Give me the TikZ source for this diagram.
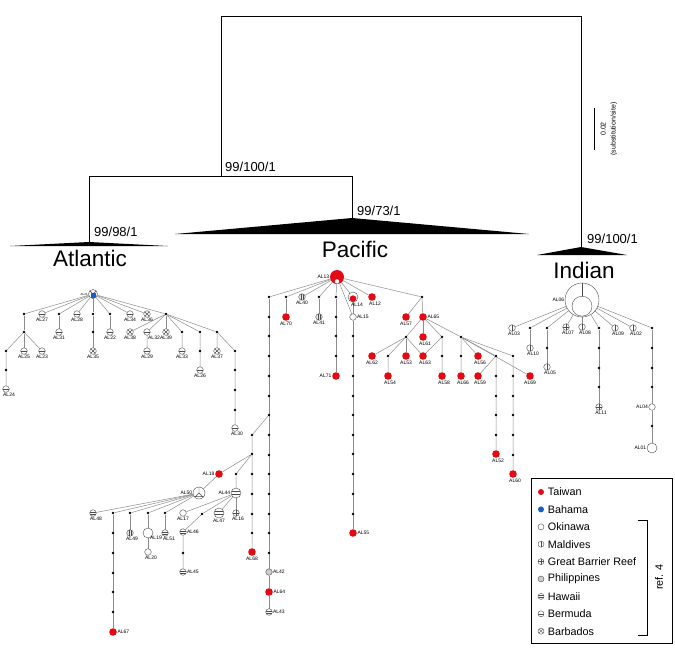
\documentclass[tikz,border=0pt]{standalone}
\usepackage{fontspec}
\setmainfont{Liberation Sans}
\usetikzlibrary{calc,positioning,backgrounds}
\definecolor{taiwan}{RGB}{228,10,20}
\definecolor{bahama}{RGB}{20,95,215}
\tikzset{
  hapline/.style={gray!60!black, line width=0.4pt},
  hap/.style={circle, draw=gray!60!black, fill=white, line width=0.4pt, inner sep=0pt, minimum size=6.6pt},
  tw/.style={circle, fill=taiwan, inner sep=0pt, minimum size=7.6pt},
  bah/.style={circle, fill=bahama, inner sep=0pt, minimum size=7.6pt},
  mal/.style={hap, path picture={\draw[hapline] (path picture bounding box.north) -- (path picture bounding box.south);}},
  gbr/.style={hap, path picture={\draw[hapline] (path picture bounding box.north) -- (path picture bounding box.south)
      (path picture bounding box.west) -- (path picture bounding box.east);}},
  phi/.style={hap, fill=gray!40},
  malphi/.style={hap, fill=gray!20, path picture={\draw[hapline, line width=0.3pt]
      ([xshift=-1pt]path picture bounding box.north) -- ([xshift=-1pt]path picture bounding box.south)
      ([xshift=1pt]path picture bounding box.north) -- ([xshift=1pt]path picture bounding box.south);}},
  haw/.style={hap, path picture={\draw[hapline]
      ($(path picture bounding box.west)!0.3!(path picture bounding box.north west)$) -- ($(path picture bounding box.east)!0.3!(path picture bounding box.north east)$)
      ($(path picture bounding box.west)!0.3!(path picture bounding box.south west)$) -- ($(path picture bounding box.east)!0.3!(path picture bounding box.south east)$);}},
  ber/.style={hap, path picture={\draw[hapline] (path picture bounding box.west) -- (path picture bounding box.east);}},
  bar/.style={hap, path picture={\draw[hapline] (path picture bounding box.north west) -- (path picture bounding box.south east)
      (path picture bounding box.north east) -- (path picture bounding box.south west);}},
  mut/.style={circle, fill=black, inner sep=0pt, minimum size=2.8pt},
  link/.style={black!45, line width=0.5pt},
  tree/.style={black, line width=0.9pt},
  every label/.style={font=\fontsize{5}{5}\selectfont, inner sep=0.4pt}
}
\begin{document}
\begin{tikzpicture}[x=1pt, y=-1pt]
\useasboundingbox (0,0) rectangle (675,656);

% tree
\coordinate (nroot) at (221,16);
\coordinate (nindtop) at (581,16);
\coordinate (njoin) at (221,176);
\coordinate (atltop) at (89,176);
\coordinate (pactop) at (352,176);
\coordinate (atltip) at (89,242);
\coordinate (pactip) at (352,218);
\coordinate (indtip) at (581,247);
\draw[tree] (njoin) -- (nroot) -- (nindtop) -- (indtip);
\draw[tree] (atltip) -- (atltop) -- (pactop) -- (pactip);
\fill (atltip) -- (168,246) -- (10,246) -- cycle;
\fill (pactip) -- (529,234) -- (175,234) -- cycle;
\fill (indtip) -- (627,255) -- (537,255) -- cycle;
\node[anchor=west, inner sep=0pt, font=\fontsize{13}{13}\selectfont] (bsroot) at (225,167) {99/100/1};
\node[anchor=west, inner sep=0pt, font=\fontsize{13}{13}\selectfont] (bspac) at (357,211) {99/73/1};
\node[anchor=west, inner sep=0pt, font=\fontsize{13}{13}\selectfont] (bsatl) at (94,232) {99/98/1};
\node[anchor=west, inner sep=0pt, font=\fontsize{13}{13}\selectfont] (bsind) at (587,239) {99/100/1};
\node[font=\fontsize{22.5}{24}\selectfont] (atlantic) at (90,258) {Atlantic};
\node[font=\fontsize{22.5}{24}\selectfont] (pacific) at (355,249) {Pacific};
\node[font=\fontsize{22.5}{24}\selectfont] (indian) at (584,270) {Indian};
\coordinate (bartop) at (594,108);
\coordinate (barbot) at (594,150);
\draw[line width=0.8pt] (bartop) -- (barbot);
\node[rotate=90, align=center, font=\fontsize{7}{10}\selectfont] (barlab) at (609,129) {0.02\\(substitution/site)};

% Atlantic
\node[hap, minimum size=9pt, label={[font=\fontsize{3}{3}\selectfont]left:AL21},
  path picture={\fill[bahama] ($(path picture bounding box.south west)+(2pt,0)$) rectangle ($(path picture bounding box.east)+(-2pt,0.6pt)$);
  \draw[hapline] (path picture bounding box.north west) -- (path picture bounding box.center) -- (path picture bounding box.north east);}] (al21) at (93,294) {};
\node[mut] (a1) at (24,314) {};
\node[ber, label=below:AL27] (al27) at (42,314) {};
\node[mut] (a2) at (59,314) {};
\node[ber, label=below:AL28] (al28) at (77,314) {};
\node[mut] (a3) at (93,314) {};
\node[mut] (a4) at (110,314) {};
\node[ber, label=below:AL34] (al34) at (130,314) {};
\node[bar, label=below:AL36] (al36) at (147,314) {};
\node[mut] (a5) at (166,314) {};
\node[mut] (a6) at (24,332) {};
\node[ber, label=below:AL31] (al31) at (59,332) {};
\node[mut] (a7) at (93,332) {};
\node[ber, label=below:AL22] (al22) at (110,332) {};
\node[bar, label=below:AL38] (al38) at (130,332) {};
\node[ber, label={[xshift=7pt]below:AL32}] (al32) at (147,332) {};
\node[bar, label=below:AL39] (al39) at (166,332) {};
\node[mut] (a8) at (182,332) {};
\node[mut] (a9) at (200,332) {};
\node[mut] (a10) at (217,332) {};
\node[mut] (a11) at (6,351) {};
\node[ber, label=below:AL25] (al25) at (24,351) {};
\node[ber, label=below:AL23] (al23) at (42,351) {};
\node[bar, label=below:AL35] (al35) at (93,351) {};
\node[ber, label=below:AL29] (al29) at (147,351) {};
\node[ber, label=below:AL33] (al33) at (182,351) {};
\node[mut] (a12) at (200,351) {};
\node[bar, label=below:AL37] (al37) at (217,351) {};
\node[mut] (a13) at (235,351) {};
\node[mut] (a14) at (6,370) {};
\node[ber, label=below:AL26] (al26) at (200,370) {};
\node[ber, label={[xshift=3pt]below:AL24}] (al24) at (6,389) {};
\foreach \y in {370,390,410} \node[mut] (a\y) at (235,\y) {};
\node[ber, label={[xshift=2pt]below:AL30}] (al30) at (235,428) {};

% Pacific
\node[tw, minimum size=14pt, label=left:AL13,
  path picture={\fill[white] ([yshift=2.6pt]path picture bounding box.south) circle (2.2pt);}] (al13) at (337,277) {};
\node[mut] (p1) at (269,297) {};
\node[mut] (p2) at (286,297) {};
\node[malphi, label=below:AL40] (al40) at (302,297) {};
\node[mut] (p3) at (319,297) {};
\node[mut] (p4) at (336,297) {};
\node[hap, minimum size=10pt, label={[xshift=4pt]below:AL14},
  path picture={\fill[taiwan] ([yshift=3.4pt]path picture bounding box.south) circle (3.3pt);}] (al14) at (353,297) {};
\node[tw, label={[xshift=3pt]below:AL12}] (al12) at (372,297) {};
\node[mut] (p5) at (422,297) {};
\node[tw, label=below:AL70] (al70) at (286,317) {};
\node[malphi, label=below:AL41] (al41) at (319,317) {};
\node[hap, label=right:AL15] (al15) at (353,317) {};
\foreach \y in {317,336,356} \node[mut] (k\y) at (336,\y) {};
\node[tw, label=left:AL71] (al71) at (336,376) {};
\foreach \y in {336,356,376,396,415,435,454,474,494,514} \node[mut] (s\y) at (353,\y) {};
\node[tw, label=right:AL55] (al55) at (353,533) {};
\foreach \y in {317,336,356,376,396,415,435,455,474,494,514,533,553} \node[mut] (t\y) at (269,\y) {};
\node[phi, label=right:AL42] (al42) at (269,572) {};
\node[tw, label=right:AL64] (al64) at (269,592) {};
\node[haw, label=right:AL43] (al43) at (269,612) {};
\foreach \y in {435,454,474,494,514,533} \node[mut] (u\y) at (252,\y) {};
\node[tw, label=below:AL68] (al68) at (252,552) {};
\node[tw, label=left:AL18] (al18) at (219,474) {};
\node[mut] (q1) at (236,474) {};
\node[haw, minimum size=10pt, label=left:AL44] (al44) at (236,493) {};
\node[hap, minimum size=12pt, label=left:AL50,
  path picture={\draw[hapline] (path picture bounding box.north) -- (path picture bounding box.center) -- (path picture bounding box.south west)
    (path picture bounding box.center) -- (path picture bounding box.south east)
    ([yshift=2.4pt]path picture bounding box.south west) -- ([yshift=2.4pt]path picture bounding box.south east);}] (al50) at (199,493) {};
\node[hap, label=below:AL17] (al17) at (183,513) {};
\node[mut] (q2) at (202,514) {};
\node[haw, minimum size=10pt, label=below:AL47] (al47) at (219,513) {};
\node[gbr, label={[xshift=2pt]below:AL16}] (al16) at (236,513) {};
\node[haw, label=right:AL46] (al46) at (183,532) {};
\node[mut] (q3) at (183,553) {};
\node[haw, label=right:AL45] (al45) at (183,572) {};
\node[haw, label={[xshift=3pt]below:AL48}] (al48) at (93,513) {};
\node[mut] (q4) at (113,513) {};
\node[mut] (q5) at (130,513) {};
\node[mut] (q6) at (148,513) {};
\node[mut] (q7) at (165,513) {};
\foreach \y in {533,553,573,592,612} \node[mut] (v\y) at (113,\y) {};
\node[tw, label=right:AL67] (al67) at (113,632) {};
\node[malphi, label={[xshift=2pt]below:AL49}] (al49) at (130,533) {};
\node[hap, minimum size=10pt, label={[xshift=8pt, yshift=3pt]below:AL19}] (al19) at (148,533) {};
\node[hap, label={[xshift=3pt]below:AL20}] (al20) at (148,552) {};
\node[haw, label={[xshift=4pt]below:AL51}] (al51) at (165,533) {};
\node[tw, label=below:AL57] (al57) at (406,317) {};
\node[tw, label=right:AL65] (al65) at (423,317) {};
\node[mut] (r1) at (406,337) {};
\node[tw, label={[xshift=2pt]below:AL61}] (al61) at (423,337) {};
\node[mut] (r2) at (442,337) {};
\node[mut] (r3) at (461,337) {};
\node[tw, label=below:AL62] (al62) at (372,356) {};
\node[mut] (r4) at (388,356) {};
\node[tw, label=below:AL53] (al53) at (406,356) {};
\node[tw, label={[xshift=2pt]below:AL63}] (al63) at (423,356) {};
\node[mut] (r5) at (442,356) {};
\node[mut] (r6) at (461,356) {};
\node[tw, label={[xshift=2pt]below:AL56}] (al56) at (478,356) {};
\node[mut] (r7) at (496,356) {};
\node[mut] (r8) at (513,356) {};
\node[tw, label={[xshift=2pt]below:AL54}] (al54) at (388,376) {};
\node[tw, label={[xshift=2pt]below:AL58}] (al58) at (442,376) {};
\node[tw, label={[xshift=2pt]below:AL66}] (al66) at (461,376) {};
\node[tw, label={[xshift=2pt]below:AL59}] (al59) at (478,376) {};
\node[tw, label=below:AL69] (al69) at (530,376) {};
\foreach \y in {376,396,415,435} \node[mut] (w\y) at (496,\y) {};
\node[tw, label={[xshift=2pt]below:AL52}] (al52) at (496,454) {};
\foreach \y in {376,396,415,435,455} \node[mut] (z\y) at (513,\y) {};
\node[tw, label={[xshift=2pt]below:AL60}] (al60) at (513,474) {};

% Indian
\node[hap, minimum size=34pt, label=left:AL06,
  path picture={\draw[hapline] (path picture bounding box.north) -- (path picture bounding box.center);
    \draw[hapline, fill=white] ([yshift=10.8pt]path picture bounding box.south) circle (10pt);}] (al06) at (582,300) {};
\node[mal, label={[xshift=2pt]below:AL03}] (al03) at (512,328) {};
\node[mut] (i1) at (530,328) {};
\node[mut] (i2) at (547,328) {};
\node[gbr, label={[xshift=2pt]below:AL07}] (al07) at (566,327) {};
\node[mal, label={[xshift=3pt]below:AL08}] (al08) at (582,327) {};
\node[mut] (i3) at (599,328) {};
\node[mal, label={[xshift=3pt]below:AL09}] (al09) at (615,328) {};
\node[mal, label={[xshift=3pt]below:AL02}] (al02) at (633,328) {};
\node[mut] (i4) at (652,328) {};
\node[mal, label={[xshift=3pt]below:AL10}] (al10) at (530,348) {};
\node[mut] (i5) at (547,348) {};
\node[mal, label={[xshift=3pt]below:AL05}] (al05) at (547,367) {};
\foreach \y in {348,368,387} \node[mut] (x\y) at (599,\y) {};
\node[gbr, label={[xshift=2pt]below:AL11}] (al11) at (599,407) {};
\foreach \y in {348,368,387} \node[mut] (y\y) at (652,\y) {};
\node[hap, label=left:AL04] (al04) at (652,407) {};
\node[mut] (i6) at (652,426) {};
\node[hap, minimum size=10pt, label=left:AL01] (al01) at (652,448) {};

% connectors
\begin{pgfonlayer}{background}
\foreach \n in {a1,al27,a2,al28,a3,a4,al34,al36,a5} \draw[link] (al21) -- (\n);
\draw[link] (a1) -- (a6) (a2) -- (al31) (a3) -- (al35) (a4) -- (al22);
\foreach \n in {al38,al32,al39,a8,a9,a10} \draw[link] (a5) -- (\n);
\foreach \n in {a11,al25,al23} \draw[link] (a6) -- (\n);
\draw[link] (al32) -- (al29) (a8) -- (al33) (a9) -- (al26) (a10) -- (al37)
  (a10) -- (a13) -- (al30) (a11) -- (al24);
\foreach \n in {p1,p2,al40,p3,p4,al14,al12,p5,al15} \draw[link] (al13) -- (\n);
\draw[link] (p2) -- (al70) (p3) -- (al41) (p4) -- (al71) (al14) -- (al15) -- (al55)
  (p1) -- (al42) -- (al64) -- (al43);
\draw[link] (t415) -- (u435) -- (al68);
\draw[link] (u454) -- (al18) -- (al50) (u454) -- (q1) -- (al44);
\foreach \n in {al17,q2,al47,al16} \draw[link] (al44) -- (\n);
\draw[link] (q2) -- (al46) -- (al45);
\foreach \n in {al48,q4,q5,q6,q7} \draw[link] (al50) -- (\n);
\draw[link] (q4) -- (al67) (q5) -- (al49) (q6) -- (al19) -- (al20) (q7) -- (al51);
\draw[link] (p5) -- (al57) (p5) -- (al65);
\foreach \n in {r1,al61,r2,r3} \draw[link] (al65) -- (\n);
\foreach \n in {al62,r4,al53,al63} \draw[link] (r1) -- (\n);
\draw[link] (r2) -- (al63) (r2) -- (al58) (r4) -- (al54) (r3) -- (al66);
\foreach \n in {al56,r7,r8,al69} \draw[link] (r3) -- (\n);
\draw[link] (r7) -- (al59) (r7) -- (al52) (r8) -- (al60);
\foreach \n in {al03,i1,i2,al07,al08,i3,al09,al02,i4} \draw[link] (al06) -- (\n);
\draw[link] (i1) -- (al10) (i2) -- (al05) (i3) -- (al11) (i4) -- (al04) -- (al01);
\end{pgfonlayer}

% legend
\node[draw, line width=1pt, minimum width=141pt, minimum height=165pt, anchor=north west] (legend) at (531,478) {};
\foreach \sty/\txt [count=\i] in {tw/Taiwan, bah/Bahama, hap/Okinawa, mal/Maldives, gbr/Great Barrier Reef,
    phi/Philippines, haw/Hawaii, ber/Bermuda, bar/Barbados} {
  \node[\sty, minimum size=6pt] (key\i) at (541,474.6+17.4*\i) {};
  \node[right=3.5pt of key\i, inner sep=0pt, font=\fontsize{10.8}{12}\selectfont] (txt\i) {\txt};
}
\coordinate (brtop) at (638,520);
\coordinate (brbot) at (638,635);
\draw[line width=0.6pt] (brtop) -- ++(9,0) |- (brbot);
\node[rotate=90, font=\fontsize{10.8}{12}\selectfont] (ref) at (659,577) {ref. 4};
\end{tikzpicture}
\end{document}
